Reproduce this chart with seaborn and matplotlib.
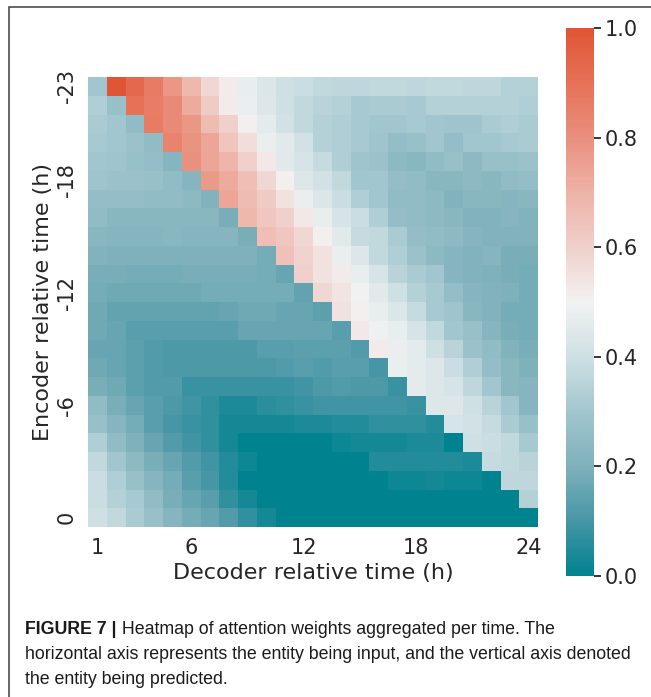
import numpy as np
import pandas as pd
import seaborn as sns
import matplotlib.pyplot as plt
from matplotlib.patches import Rectangle

# hours on each axis
decoder_hours = list(range(1, 25))
encoder_hours = list(range(-23, 1))
x_tick_hours = [1, 6, 12, 18, 24]
y_tick_hours = [-23, -18, -12, -6, 0]
cbar_ticks = [0.0, 0.2, 0.4, 0.6, 0.8, 1.0]

# aggregated attention weights, rows = encoder time (-23 .. 0), cols = decoder time (1 .. 24)
attention = [
    [0.30, 1.00, 0.93, 0.87, 0.78, 0.68, 0.58, 0.52, 0.47, 0.43, 0.40, 0.39, 0.37, 0.36, 0.36, 0.37, 0.37, 0.36, 0.37, 0.37, 0.36, 0.36, 0.34, 0.34],
    [0.33, 0.27, 0.90, 0.86, 0.82, 0.72, 0.62, 0.52, 0.48, 0.44, 0.40, 0.37, 0.35, 0.34, 0.31, 0.32, 0.32, 0.31, 0.34, 0.34, 0.34, 0.34, 0.34, 0.33],
    [0.32, 0.30, 0.25, 0.87, 0.82, 0.78, 0.67, 0.60, 0.51, 0.46, 0.41, 0.37, 0.34, 0.33, 0.31, 0.30, 0.30, 0.31, 0.30, 0.29, 0.29, 0.32, 0.33, 0.32],
    [0.31, 0.30, 0.28, 0.25, 0.84, 0.79, 0.74, 0.64, 0.56, 0.48, 0.45, 0.41, 0.34, 0.33, 0.31, 0.29, 0.26, 0.27, 0.30, 0.26, 0.30, 0.30, 0.31, 0.32],
    [0.30, 0.29, 0.27, 0.26, 0.22, 0.80, 0.74, 0.69, 0.60, 0.53, 0.45, 0.42, 0.38, 0.33, 0.29, 0.28, 0.24, 0.23, 0.25, 0.27, 0.24, 0.27, 0.27, 0.28],
    [0.29, 0.28, 0.28, 0.27, 0.25, 0.22, 0.77, 0.72, 0.66, 0.58, 0.51, 0.44, 0.41, 0.37, 0.30, 0.30, 0.26, 0.25, 0.23, 0.23, 0.24, 0.23, 0.25, 0.26],
    [0.26, 0.26, 0.26, 0.25, 0.25, 0.24, 0.21, 0.74, 0.67, 0.62, 0.55, 0.48, 0.43, 0.39, 0.33, 0.30, 0.25, 0.25, 0.24, 0.21, 0.23, 0.23, 0.22, 0.23],
    [0.25, 0.23, 0.23, 0.23, 0.23, 0.23, 0.23, 0.19, 0.68, 0.63, 0.60, 0.53, 0.47, 0.42, 0.39, 0.33, 0.26, 0.25, 0.24, 0.23, 0.21, 0.21, 0.22, 0.21],
    [0.23, 0.22, 0.22, 0.22, 0.23, 0.22, 0.22, 0.22, 0.19, 0.66, 0.63, 0.58, 0.51, 0.45, 0.38, 0.37, 0.32, 0.26, 0.25, 0.24, 0.22, 0.21, 0.21, 0.21],
    [0.21, 0.20, 0.20, 0.20, 0.20, 0.20, 0.20, 0.20, 0.20, 0.18, 0.65, 0.59, 0.55, 0.48, 0.44, 0.37, 0.33, 0.28, 0.24, 0.22, 0.21, 0.22, 0.19, 0.19],
    [0.19, 0.19, 0.18, 0.18, 0.18, 0.19, 0.19, 0.19, 0.19, 0.18, 0.16, 0.60, 0.55, 0.52, 0.47, 0.42, 0.35, 0.32, 0.30, 0.22, 0.21, 0.20, 0.19, 0.18],
    [0.18, 0.17, 0.17, 0.17, 0.17, 0.17, 0.18, 0.18, 0.18, 0.18, 0.18, 0.15, 0.58, 0.54, 0.50, 0.45, 0.40, 0.34, 0.31, 0.26, 0.22, 0.21, 0.20, 0.18],
    [0.17, 0.15, 0.15, 0.15, 0.15, 0.15, 0.15, 0.16, 0.17, 0.17, 0.16, 0.16, 0.14, 0.55, 0.51, 0.47, 0.43, 0.38, 0.31, 0.29, 0.23, 0.21, 0.18, 0.18],
    [0.17, 0.16, 0.13, 0.13, 0.13, 0.13, 0.13, 0.13, 0.16, 0.16, 0.16, 0.16, 0.16, 0.13, 0.53, 0.49, 0.47, 0.42, 0.37, 0.30, 0.27, 0.22, 0.19, 0.18],
    [0.16, 0.16, 0.14, 0.12, 0.11, 0.11, 0.11, 0.11, 0.11, 0.13, 0.13, 0.14, 0.14, 0.14, 0.12, 0.52, 0.48, 0.46, 0.40, 0.35, 0.28, 0.25, 0.21, 0.19],
    [0.17, 0.16, 0.14, 0.12, 0.11, 0.11, 0.11, 0.11, 0.11, 0.11, 0.12, 0.13, 0.12, 0.13, 0.13, 0.10, 0.48, 0.46, 0.44, 0.39, 0.33, 0.26, 0.23, 0.20],
    [0.19, 0.17, 0.14, 0.12, 0.12, 0.08, 0.08, 0.08, 0.08, 0.08, 0.08, 0.09, 0.11, 0.12, 0.11, 0.11, 0.08, 0.46, 0.44, 0.42, 0.36, 0.30, 0.23, 0.22],
    [0.25, 0.19, 0.16, 0.13, 0.11, 0.09, 0.07, 0.04, 0.04, 0.06, 0.07, 0.08, 0.09, 0.09, 0.09, 0.09, 0.09, 0.08, 0.44, 0.44, 0.40, 0.35, 0.30, 0.22],
    [0.27, 0.22, 0.18, 0.13, 0.10, 0.08, 0.07, 0.03, 0.03, 0.03, 0.03, 0.04, 0.04, 0.05, 0.05, 0.07, 0.07, 0.07, 0.05, 0.42, 0.41, 0.38, 0.32, 0.27],
    [0.33, 0.25, 0.20, 0.16, 0.12, 0.09, 0.07, 0.03, 0.00, 0.00, 0.00, 0.00, 0.00, 0.02, 0.03, 0.03, 0.03, 0.04, 0.04, 0.00, 0.40, 0.39, 0.37, 0.31],
    [0.37, 0.30, 0.24, 0.19, 0.16, 0.12, 0.09, 0.05, 0.02, 0.00, 0.00, 0.00, 0.00, 0.00, 0.00, 0.05, 0.05, 0.05, 0.05, 0.05, 0.04, 0.38, 0.37, 0.35],
    [0.39, 0.33, 0.27, 0.22, 0.18, 0.13, 0.10, 0.05, 0.00, 0.00, 0.00, 0.00, 0.00, 0.00, 0.00, 0.00, 0.02, 0.02, 0.03, 0.02, 0.02, 0.00, 0.36, 0.36],
    [0.39, 0.34, 0.31, 0.25, 0.19, 0.16, 0.13, 0.07, 0.03, 0.00, 0.00, 0.00, 0.00, 0.00, 0.00, 0.00, 0.00, 0.00, 0.00, 0.00, 0.00, 0.00, 0.00, 0.34],
    [0.40, 0.37, 0.32, 0.27, 0.22, 0.18, 0.16, 0.12, 0.07, 0.03, 0.00, 0.00, 0.00, 0.00, 0.00, 0.00, 0.00, 0.00, 0.00, 0.00, 0.00, 0.00, 0.00, 0.00],
]

# colour stops, 0.0 -> 1.0 in steps of 0.1
cmap_colors = ["#00838f", "#4896a6", "#7fb1bb", "#a3c6cf", "#cfe0e4", "#f2f2f2",
               "#f0d0cb", "#eeb3a7", "#e9907e", "#e67258", "#e05535"]

caption_bold = "FIGURE 7 |"
caption_lines = [
    " Heatmap of attention weights aggregated per time. The",
    "horizontal axis represents the entity being input, and the vertical axis denoted",
    "the entity being predicted.",
]

sns.set_theme(style="white")
plt.rcParams['font.family'] = ['DejaVu Sans']

W, H = 651, 697
fig = plt.figure(figsize=(W / 100, H / 100), dpi=100)
ax = fig.add_axes([88 / W, 1 - 527 / H, 450 / W, 450 / H])
cax = fig.add_axes([566 / W, 1 - 575.7 / H, 28 / W, 547.4 / H])

cmap = sns.blend_palette(cmap_colors, as_cmap=True)
df = pd.DataFrame(np.array(attention), index=encoder_hours, columns=decoder_hours)
sns.heatmap(df, ax=ax, cbar_ax=cax, cmap=cmap, vmin=0, vmax=1,
            xticklabels=False, yticklabels=False)

# sparse tick labels
ax.set_xticks([decoder_hours.index(h) + 0.5 for h in x_tick_hours])
ax.set_xticklabels([str(h) for h in x_tick_hours], fontsize=15, rotation=0)
ax.set_yticks([encoder_hours.index(h) + 0.5 for h in y_tick_hours])
ax.set_yticklabels([str(h) for h in y_tick_hours], fontsize=15, rotation=90, va='center')
ax.tick_params(axis='x', length=0, pad=8)
ax.tick_params(axis='y', length=0, pad=8)

ax.set_xlabel("Decoder relative time (h)", fontsize=16, va='top')
ax.xaxis.set_label_coords(0.5, -0.079)
ax.set_ylabel("Encoder relative time (h)", fontsize=16, va='bottom')
ax.yaxis.set_label_coords(-0.078, 0.5)

cax.set_yticks(cbar_ticks)
cax.set_yticklabels([f"{t:.1f}" for t in cbar_ticks])
cax.tick_params(axis='y', right=True, length=5, width=1.3, color='#262626',
                labelsize=15, pad=3)

# frame around the figure panel
fig.patches.append(Rectangle((8.5 / W, -0.05), 1.2, 1 - 6.5 / H + 0.05,
                             transform=fig.transFigure, fill=False,
                             edgecolor='#4d4d4d', linewidth=1.2))

# caption
cap_font = ['Liberation Sans', 'DejaVu Sans']
cap_size = 12.8
baselines = [634, 659, 684]
t = fig.text(25 / W, 1 - baselines[0] / H, caption_bold, fontsize=cap_size,
             fontweight='bold', family=cap_font, color='#1a1a1a', va='baseline')
fig.canvas.draw()
bb = t.get_window_extent(renderer=fig.canvas.get_renderer())
fig.text(bb.x1 / W, 1 - baselines[0] / H, caption_lines[0], fontsize=cap_size,
         family=cap_font, color='#1a1a1a', va='baseline')
for line, y in zip(caption_lines[1:], baselines[1:]):
    fig.text(25 / W, 1 - y / H, line, fontsize=cap_size, family=cap_font,
             color='#1a1a1a', va='baseline')

fig.savefig("out.png", dpi=100)
